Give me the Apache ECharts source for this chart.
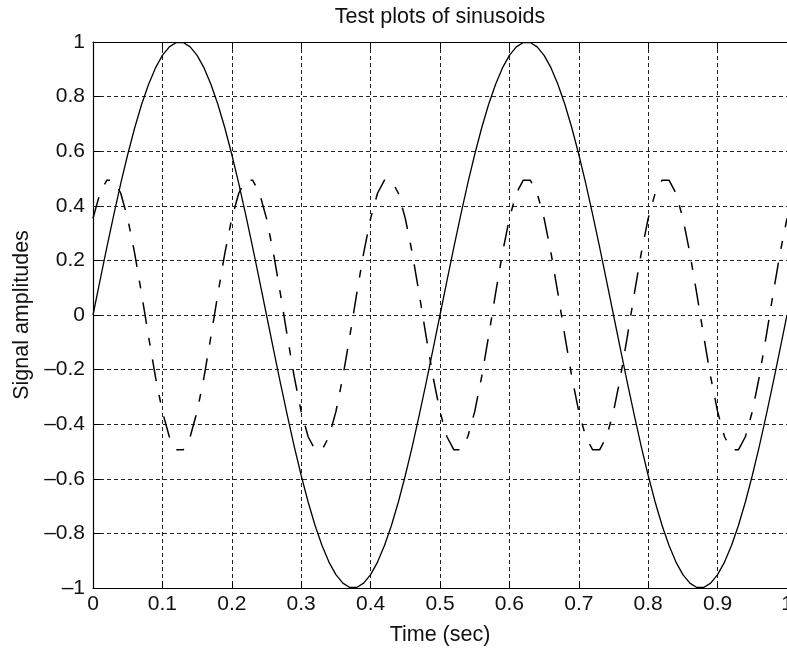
<!DOCTYPE html>
<html>
<head>
<meta charset="utf-8">
<script src="https://cdn.jsdelivr.net/npm/echarts@6/dist/echarts.min.js"></script>
<style>
  html, body { margin: 0; padding: 0; background: #fff; overflow: hidden; }
  #chart { width: 787px; height: 653px; }
</style>
</head>
<body>
<div id="chart"></div>
<script>
// Time samples (sec)
const time = [
  0.00, 0.01, 0.02, 0.03, 0.04, 0.05, 0.06, 0.07, 0.08, 0.09,
  0.10, 0.11, 0.12, 0.13, 0.14, 0.15, 0.16, 0.17, 0.18, 0.19,
  0.20, 0.21, 0.22, 0.23, 0.24, 0.25, 0.26, 0.27, 0.28, 0.29,
  0.30, 0.31, 0.32, 0.33, 0.34, 0.35, 0.36, 0.37, 0.38, 0.39,
  0.40, 0.41, 0.42, 0.43, 0.44, 0.45, 0.46, 0.47, 0.48, 0.49,
  0.50, 0.51, 0.52, 0.53, 0.54, 0.55, 0.56, 0.57, 0.58, 0.59,
  0.60, 0.61, 0.62, 0.63, 0.64, 0.65, 0.66, 0.67, 0.68, 0.69,
  0.70, 0.71, 0.72, 0.73, 0.74, 0.75, 0.76, 0.77, 0.78, 0.79,
  0.80, 0.81, 0.82, 0.83, 0.84, 0.85, 0.86, 0.87, 0.88, 0.89,
  0.90, 0.91, 0.92, 0.93, 0.94, 0.95, 0.96, 0.97, 0.98, 0.99,
  1.00
];

// Solid curve (amplitude 1)
const solidSignal = [
  0, 0.125, 0.249, 0.368, 0.482, 0.588, 0.685, 0.771, 0.844, 0.905,
  0.951, 0.982, 0.998, 0.998, 0.982, 0.951, 0.905, 0.844, 0.771, 0.685,
  0.588, 0.482, 0.368, 0.249, 0.125,
  0, -0.125, -0.249, -0.368, -0.482, -0.588, -0.685, -0.771, -0.844, -0.905,
  -0.951, -0.982, -0.998, -0.998, -0.982, -0.951, -0.905, -0.844, -0.771, -0.685,
  -0.588, -0.482, -0.368, -0.249, -0.125,
  0, 0.125, 0.249, 0.368, 0.482, 0.588, 0.685, 0.771, 0.844, 0.905,
  0.951, 0.982, 0.998, 0.998, 0.982, 0.951, 0.905, 0.844, 0.771, 0.685,
  0.588, 0.482, 0.368, 0.249, 0.125,
  0, -0.125, -0.249, -0.368, -0.482, -0.588, -0.685, -0.771, -0.844, -0.905,
  -0.951, -0.982, -0.998, -0.998, -0.982, -0.951, -0.905, -0.844, -0.771, -0.685,
  -0.588, -0.482, -0.368, -0.249, -0.125,
  0
];

// Dash-dot curve (amplitude 0.5)
const dashedSignal = [
  0.354, 0.446, 0.494, 0.494, 0.446, 0.354, 0.227, 0.078, -0.078, -0.227,
  -0.354, -0.446, -0.494, -0.494, -0.446, -0.354, -0.227, -0.078, 0.078, 0.227,
  0.354, 0.446, 0.494, 0.494, 0.446, 0.354, 0.227, 0.078, -0.078, -0.227,
  -0.354, -0.446, -0.494, -0.494, -0.446, -0.354, -0.227, -0.078, 0.078, 0.227,
  0.354, 0.446, 0.494, 0.494, 0.446, 0.354, 0.227, 0.078, -0.078, -0.227,
  -0.354, -0.446, -0.494, -0.494, -0.446, -0.354, -0.227, -0.078, 0.078, 0.227,
  0.354, 0.446, 0.494, 0.494, 0.446, 0.354, 0.227, 0.078, -0.078, -0.227,
  -0.354, -0.446, -0.494, -0.494, -0.446, -0.354, -0.227, -0.078, 0.078, 0.227,
  0.354, 0.446, 0.494, 0.494, 0.446, 0.354, 0.227, 0.078, -0.078, -0.227,
  -0.354, -0.446, -0.494, -0.494, -0.446, -0.354, -0.227, -0.078, 0.078, 0.227,
  0.354
];

const titleText = 'Test plots of sinusoids';
const xName = 'Time (sec)';
const yName = 'Signal amplitudes';

const FONT = 'Liberation Sans, Arial, Helvetica, sans-serif';
const fmt = v => String(+v.toFixed(1)).replace('-', '\u2013');

const chart = echarts.init(document.getElementById('chart'), null, { renderer: 'canvas' });

const gridLine = { show: true, lineStyle: { color: '#222', width: 1, type: [4, 3] } };
const axisLine = { show: true, onZero: false, lineStyle: { color: '#000', width: 1.2 } };
const tick = { show: true, inside: true, length: 7, lineStyle: { color: '#000' } };

chart.setOption({
  animation: false,
  backgroundColor: '#fff',
  textStyle: { fontFamily: FONT, color: '#000' },
  title: {
    text: titleText,
    left: 435,
    top: 1,
    textAlign: 'center',
    textStyle: { fontFamily: FONT, fontSize: 21.5, fontWeight: 'normal', color: '#111' }
  },
  grid: { left: 93, top: 42, width: 694, height: 546, containLabel: false, outerBoundsMode: 'none' },
  xAxis: [
    {
      type: 'value', min: 0, max: 1, interval: 0.1, position: 'bottom',
      name: xName, nameLocation: 'middle', nameGap: 36,
      nameTextStyle: { fontFamily: FONT, fontSize: 21.5, color: '#111' },
      axisLine: axisLine,
      axisTick: tick,
      axisLabel: { fontFamily: FONT, fontSize: 21, color: '#111', margin: 6, formatter: fmt, showMaxLabel: true, hideOverlap: false },
      splitLine: gridLine
    },
    {
      type: 'value', min: 0, max: 1, interval: 0.1, position: 'top',
      axisLine: axisLine,
      axisTick: tick,
      axisLabel: { show: false },
      splitLine: { show: false }
    }
  ],
  yAxis: [
    {
      type: 'value', min: -1, max: 1, interval: 0.2, position: 'left',
      name: yName, nameLocation: 'middle', nameGap: 60, nameRotate: 90,
      nameTextStyle: { fontFamily: FONT, fontSize: 21.5, color: '#111' },
      axisLine: axisLine,
      axisTick: tick,
      axisLabel: { fontFamily: FONT, fontSize: 21, color: '#111', margin: 8, formatter: fmt },
      splitLine: gridLine
    }
  ],
  series: [
    {
      type: 'line', name: 'solid', showSymbol: false, symbol: 'none',
      data: time.map((t, i) => [t, solidSignal[i]]),
      lineStyle: { color: '#000', width: 1.3, type: 'solid' },
      z: 3
    },
    {
      type: 'line', name: 'dashdot', showSymbol: false, symbol: 'none',
      data: time.map((t, i) => [t, dashedSignal[i]]),
      lineStyle: { color: '#000', width: 1.5, type: [22, 14, 8, 14] },
      z: 3
    }
  ]
});
</script>
</body>
</html>
